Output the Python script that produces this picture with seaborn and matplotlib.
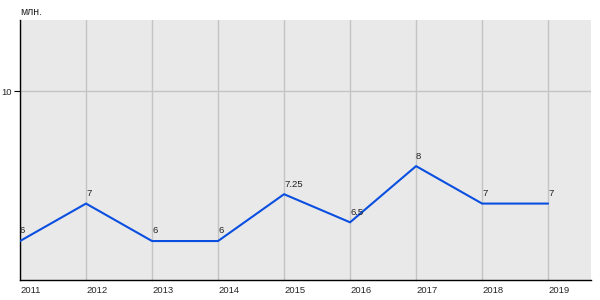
import matplotlib
matplotlib.use("Agg")
import matplotlib.pyplot as plt
import seaborn as sns
import pandas as pd

years = [2011, 2012, 2013, 2014, 2015, 2016, 2017, 2018, 2019]
values = [6, 7, 6, 6, 7.25, 6.5, 8, 7, 7]
labels = ["6", "7", "6", "6", "7.25", "6.5", "8", "7", "7"]
yticks = [10]
unit = "млн."

sns.set_theme(style="white")
plt.rcParams['font.family'] = ['Liberation Sans', 'DejaVu Sans']

df = pd.DataFrame({"year": years, "value": values})

fig = plt.figure(figsize=(6, 3), dpi=100)
ax = fig.add_axes([20/600, 1-280/300, 571/600, 260/300])
ax.set_facecolor("#e9e9e9")

for x in years:
    ax.axvline(x, color="#c4c4c4", lw=1, zorder=1)
for y in yticks:
    ax.axhline(y, color="#c4c4c4", lw=1, zorder=1)

sns.lineplot(data=df, x="year", y="value", ax=ax, color="#0a4fe0", lw=1.5, zorder=3)

for x, y, t in zip(years, values, labels):
    ax.annotate(t, (x, y), xytext=(0, 4), textcoords="offset points",
                fontsize=6.8, color="#222222", ha="left", va="bottom")

ax.set_xlim(2011, 2019.65)
ax.set_ylim(4.96, 11.9)
ax.set_xticks(years)
ax.set_xticklabels([str(y) for y in years], fontsize=6.8, ha="left")
ax.set_yticks(yticks)
ax.set_yticklabels([str(y) for y in yticks], fontsize=6.8)
ax.tick_params(axis="x", length=0, pad=4)
ax.tick_params(axis="y", length=4, width=0.8, pad=2, left=True, color="black")
ax.set_xlabel("")
ax.set_ylabel("")

for s in ["top", "right"]:
    ax.spines[s].set_visible(False)
for s in ["left", "bottom"]:
    ax.spines[s].set_color("black")
    ax.spines[s].set_linewidth(1)

fig.text(20/600, 1-12/300, unit, fontsize=7.5, ha="left", va="center")

fig.savefig("out.png", dpi=100)
